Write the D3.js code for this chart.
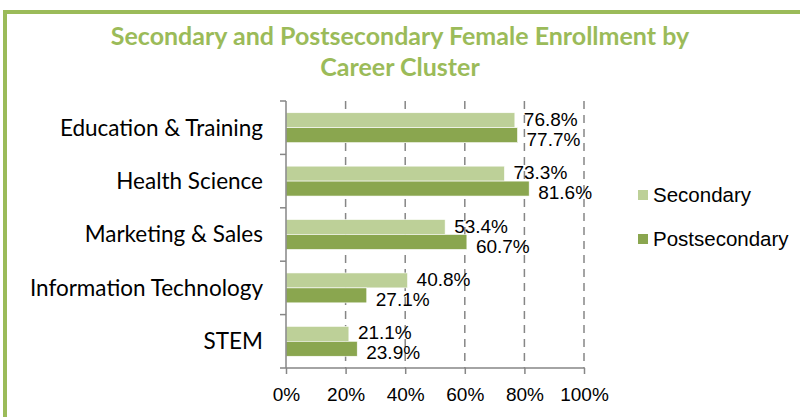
<!DOCTYPE html>
<html>
<head>
<meta charset="utf-8">
<script src="https://cdn.jsdelivr.net/npm/d3@7"></script>
<style>
  body { margin: 0; background: #fff; }
  svg { display: block; }
</style>
</head>
<body>
<svg id="chart"></svg>
<script>
var categories = ['Education & Training', 'Health Science', 'Marketing & Sales', 'Information Technology', 'STEM'];
var secondary = [76.8, 73.3, 53.4, 40.8, 21.1];
var postsecondary = [77.7, 81.6, 60.7, 27.1, 23.9];
var seriesNames = ['Secondary', 'Postsecondary'];
var seriesColors = ['#bdd098', '#8aa64f'];
var xTicks = [0, 20, 40, 60, 80, 100];

var width = 800, height = 417;
var svg = d3.select('#chart').attr('width', width).attr('height', height);

// green frame, runs off the right and bottom edges
svg.append('rect')
  .attr('x', 5).attr('y', 12)
  .attr('width', 820).attr('height', 440)
  .attr('fill', 'none')
  .attr('stroke', '#9bbb59')
  .attr('stroke-width', 4);

// title
var title = svg.append('text')
  .attr('text-anchor', 'middle')
  .attr('font-family', 'Lato, sans-serif')
  .attr('font-weight', 'bold')
  .attr('font-size', 25)
  .attr('fill', '#9bbb59');
title.append('tspan').attr('x', 400).attr('y', 45).text('Secondary and Postsecondary Female Enrollment by');
title.append('tspan').attr('x', 400).attr('y', 76).text('Career Cluster');

var plotLeft = 286, plotRight = 584, plotTop = 101, plotBottom = 368;

var x = d3.scaleLinear().domain([0, 100]).range([plotLeft, plotRight]);
var y = d3.scaleBand().domain(categories).range([plotTop, plotBottom]).paddingInner(0.44).paddingOuter(0.22);
var sub = d3.scaleBand().domain(seriesNames).range([0, y.bandwidth()]);

var g = svg.append('g');

// dashed gridlines
g.selectAll('line.grid')
  .data(xTicks.slice(1))
  .enter()
    .append('line')
    .attr('class', 'grid')
    .attr('x1', function(d){ return x(d); })
    .attr('x2', function(d){ return x(d); })
    .attr('y1', plotTop).attr('y2', plotBottom)
    .attr('stroke', '#868686')
    .attr('stroke-width', 1.5)
    .attr('stroke-dasharray', '8,6');

// bars
var rows = categories.map(function(c, i){
  return {cat: c, values: [secondary[i], postsecondary[i]]};
});

var rowG = g.selectAll('g.row')
  .data(rows)
  .enter()
    .append('g')
    .attr('class', 'row')
    .attr('transform', function(d){ return 'translate(0,' + y(d.cat) + ')'; });

rowG.selectAll('rect')
  .data(function(d){ return d.values.map(function(v, k){ return {v: v, k: k}; }); })
  .enter()
    .append('rect')
    .attr('x', x(0))
    .attr('y', function(d){ return sub(seriesNames[d.k]); })
    .attr('width', function(d){ return x(d.v) - x(0); })
    .attr('height', sub.bandwidth())
    .attr('fill', function(d){ return seriesColors[d.k]; })
    .attr('stroke', '#fff')
    .attr('stroke-width', 0.6);

rowG.selectAll('text')
  .data(function(d){ return d.values.map(function(v, k){ return {v: v, k: k}; }); })
  .enter()
    .append('text')
    .attr('x', function(d){ return x(d.v) + 9; })
    .attr('y', function(d){ return sub(seriesNames[d.k]) + sub.bandwidth() / 2 + (d.k ? 4 : -1); })
    .attr('dy', '0.35em')
    .attr('font-family', 'Liberation Sans, Arial, sans-serif')
    .attr('font-size', 19)
    .attr('fill', '#000')
    .text(function(d){ return d.v.toFixed(1) + '%'; });

// y axis: line with tick marks at the band borders
var yEdges = categories.map(function(c){ return y(c) - y.step() * y.paddingInner() / 2; }).concat([plotBottom]);
yEdges[0] = plotTop;
g.append('line')
  .attr('x1', plotLeft).attr('x2', plotLeft).attr('y1', plotTop).attr('y2', plotBottom)
  .attr('stroke', '#868686').attr('stroke-width', 1.5);
g.selectAll('line.ytick')
  .data(yEdges)
  .enter()
    .append('line')
    .attr('class', 'ytick')
    .attr('x1', plotLeft - 6).attr('x2', plotLeft)
    .attr('y1', function(d){ return d; }).attr('y2', function(d){ return d; })
    .attr('stroke', '#868686').attr('stroke-width', 1.5);

g.selectAll('text.cat')
  .data(categories)
  .enter()
    .append('text')
    .attr('class', 'cat')
    .attr('x', plotLeft - 23)
    .attr('y', function(d){ return y(d) + y.bandwidth() / 2; })
    .attr('dy', '0.35em')
    .attr('text-anchor', 'end')
    .attr('font-family', 'Lato, sans-serif')
    .attr('font-size', 22.5)
    .attr('fill', '#000')
    .text(function(d){ return d; });

// x axis
var xAxis = d3.axisBottom(x)
  .tickValues(xTicks)
  .tickSize(6)
  .tickFormat(function(d){ return d + '%'; });

var xg = g.append('g')
  .attr('transform', 'translate(0,' + plotBottom + ')')
  .call(xAxis);
xg.select('.domain').attr('stroke', '#868686').attr('stroke-width', 1.5)
  .attr('d', 'M' + plotLeft + ',0H' + plotRight);
xg.selectAll('.tick line').attr('stroke', '#868686').attr('stroke-width', 1.5);
xg.selectAll('.tick text')
  .attr('y', 20)
  .attr('dy', '0.71em')
  .attr('font-family', 'Liberation Sans, Arial, sans-serif')
  .attr('font-size', 19)
  .attr('fill', '#000');

// legend
var legend = svg.selectAll('g.legend')
  .data(seriesNames)
  .enter()
    .append('g')
    .attr('class', 'legend')
    .attr('transform', function(d, i){ return 'translate(638,' + (195 + i * 44) + ')'; });
legend.append('rect')
  .attr('x', 0).attr('y', -5)
  .attr('width', 10).attr('height', 10)
  .attr('fill', function(d, i){ return seriesColors[i]; });
legend.append('text')
  .attr('x', 15).attr('y', 0)
  .attr('dy', '0.35em')
  .attr('font-family', 'Liberation Sans, Arial, sans-serif')
  .attr('font-size', 20.5)
  .attr('fill', '#000')
  .text(function(d){ return d; });
</script>
</body>
</html>
